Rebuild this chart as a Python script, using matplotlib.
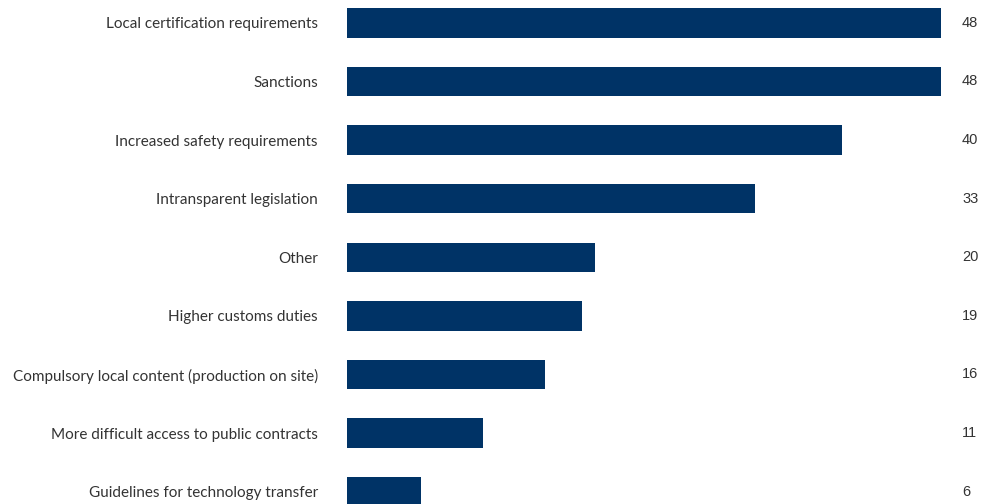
import matplotlib
matplotlib.use("Agg")
import matplotlib.pyplot as plt

categories = [
    "Local certification requirements",
    "Sanctions",
    "Increased safety requirements",
    "Intransparent legislation",
    "Other",
    "Higher customs duties",
    "Compulsory local content (production on site)",
    "More difficult access to public contracts",
    "Guidelines for technology transfer",
]
values = [48, 48, 40, 33, 20, 19, 16, 11, 6]

BAR_COLOR = "#003366"
TEXT_COLOR = "#333333"

fig = plt.figure(figsize=(9.85, 5.04), dpi=100)
# axes: x=0 at px 347, x=48 at px 941; full height
ax = fig.add_axes([347 / 985, 0, (941 - 347) / 985, 1])

pos = list(range(len(categories)))
ax.barh(pos, values, height=0.5, color=BAR_COLOR)

ax.set_xlim(0, 48)
ax.set_ylim(8.21, -0.39)

ax.set_yticks(pos)
ax.set_yticklabels(categories, fontsize=11, color=TEXT_COLOR, family="Lato")
ax.tick_params(axis="y", length=0, pad=21)
ax.set_xticks([])
for s in ax.spines.values():
    s.set_visible(False)

for p, v in zip(pos, values):
    ax.text(49.7, p, str(v), ha="left", va="center", fontsize=10.5,
            color=TEXT_COLOR, family="Liberation Sans", clip_on=False)

fig.savefig("out.png", dpi=100)
